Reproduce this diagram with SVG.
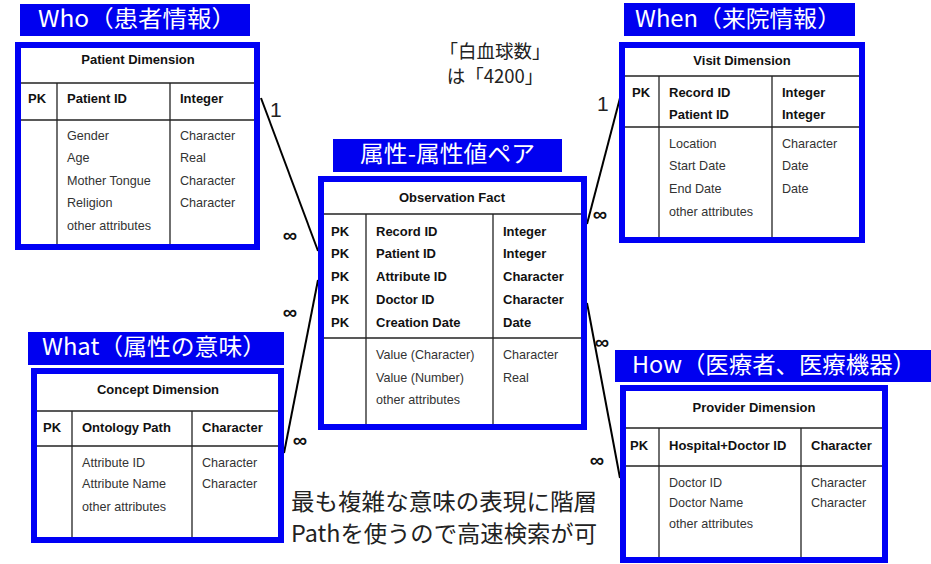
<svg xmlns="http://www.w3.org/2000/svg" width="931" height="564" viewBox="0 0 931 564">
<style>
.bg{fill:#ffffff}
.tbl{fill:#ffffff;stroke:#0000f5;stroke-width:6}
.lbl{fill:#0000f0}
.lt{fill:#ffffff;font-family:"Noto Sans CJK JP","Noto Sans",sans-serif;font-size:23px}
.g line{stroke:#222;stroke-width:1.3}
.t{font-family:"Liberation Sans",Arial,sans-serif;font-size:13px;fill:#111;font-weight:bold}
.n{font-family:"Liberation Sans",Arial,sans-serif;font-size:12.6px;fill:#333}
.ttl{text-anchor:middle}
.con line{stroke:#000;stroke-width:2}
.card{font-family:"Liberation Sans",Arial,sans-serif;font-size:21px;fill:#222}
.inf{font-family:"Liberation Sans",Arial,sans-serif;font-size:20px;fill:#111;text-anchor:middle;font-weight:bold}
.jp{font-family:"Noto Sans CJK JP",sans-serif;fill:#222}
</style>
<rect class="bg" x="0" y="0" width="931" height="564"/>

<g id="connectors" class="con">
  <line x1="261" y1="98" x2="318" y2="251"/>
  <line x1="318" y1="280" x2="284" y2="453"/>
  <line x1="620" y1="98" x2="587" y2="224"/>
  <line x1="587" y1="303" x2="620" y2="478"/>
  <text class="card" x="270" y="117">1</text>
  <text class="card" x="597" y="111">1</text>
  <text class="inf" x="290" y="242">∞</text>
  <text class="inf" x="290" y="319">∞</text>
  <text class="inf" x="300" y="447">∞</text>
  <text class="inf" x="600" y="221">∞</text>
  <text class="inf" x="602" y="349">∞</text>
  <text class="inf" x="597" y="467">∞</text>
</g>

<g id="who-label">
  <rect class="lbl" x="20" y="4" width="230" height="32"/>
  <text class="lt" x="38" y="27" textLength="198" lengthAdjust="spacingAndGlyphs">Who（患者情報）</text>
</g>
<g id="patient-dimension" class="g">
  <rect class="tbl" x="18" y="45" width="239" height="202"/>
  <line x1="21" y1="83" x2="254" y2="83"/>
  <line x1="21" y1="120" x2="254" y2="120"/>
  <line x1="57" y1="83" x2="57" y2="244"/>
  <line x1="170" y1="83" x2="170" y2="244"/>
  <text class="t ttl" x="138" y="64">Patient Dimension</text>
  <text class="t" x="28" y="103">PK</text>
  <text class="t" x="67" y="103">Patient ID</text>
  <text class="t" x="180" y="103">Integer</text>
  <text class="n" x="67" y="140">Gender</text>
  <text class="n" x="67" y="162">Age</text>
  <text class="n" x="67" y="185">Mother Tongue</text>
  <text class="n" x="67" y="207">Religion</text>
  <text class="n" x="67" y="230">other attributes</text>
  <text class="n" x="180" y="140">Character</text>
  <text class="n" x="180" y="162">Real</text>
  <text class="n" x="180" y="185">Character</text>
  <text class="n" x="180" y="207">Character</text>
</g>

<g id="when-label">
  <rect class="lbl" x="624" y="3" width="231" height="33"/>
  <text class="lt" x="635" y="27" textLength="206" lengthAdjust="spacingAndGlyphs">When（来院情報）</text>
</g>
<g id="visit-dimension" class="g">
  <rect class="tbl" x="622" y="45" width="240" height="195"/>
  <line x1="625" y1="76" x2="859" y2="76"/>
  <line x1="625" y1="127" x2="859" y2="127"/>
  <line x1="659" y1="76" x2="659" y2="237"/>
  <line x1="772" y1="76" x2="772" y2="237"/>
  <text class="t ttl" x="742" y="65">Visit Dimension</text>
  <text class="t" x="632" y="97">PK</text>
  <text class="t" x="669" y="97">Record ID</text>
  <text class="t" x="669" y="119">Patient ID</text>
  <text class="t" x="782" y="97">Integer</text>
  <text class="t" x="782" y="119">Integer</text>
  <text class="n" x="669" y="148">Location</text>
  <text class="n" x="669" y="170">Start Date</text>
  <text class="n" x="669" y="193">End Date</text>
  <text class="n" x="669" y="216">other attributes</text>
  <text class="n" x="782" y="148">Character</text>
  <text class="n" x="782" y="170">Date</text>
  <text class="n" x="782" y="193">Date</text>
</g>

<g id="note-top">
  <text class="jp" x="495" y="58" font-size="18.5" text-anchor="middle">「白血球数」</text>
  <text class="jp" x="495" y="83" font-size="18.5" text-anchor="middle">は「4200」</text>
</g>

<g id="pair-label">
  <rect class="lbl" x="333" y="139" width="229" height="33"/>
  <text class="lt" x="360" y="162" font-size="23" textLength="175" lengthAdjust="spacingAndGlyphs">属性-属性値ペア</text>
</g>
<g id="observation-fact" class="g">
  <rect class="tbl" x="321" y="179" width="263" height="248"/>
  <line x1="324" y1="214" x2="581" y2="214"/>
  <line x1="324" y1="338" x2="581" y2="338"/>
  <line x1="366" y1="214" x2="366" y2="424"/>
  <line x1="493" y1="214" x2="493" y2="424"/>
  <text class="t ttl" x="452" y="202">Observation Fact</text>
  <text class="t" x="331" y="236">PK</text>
  <text class="t" x="331" y="258">PK</text>
  <text class="t" x="331" y="281">PK</text>
  <text class="t" x="331" y="304">PK</text>
  <text class="t" x="331" y="327">PK</text>
  <text class="t" x="376" y="236">Record ID</text>
  <text class="t" x="376" y="258">Patient ID</text>
  <text class="t" x="376" y="281">Attribute ID</text>
  <text class="t" x="376" y="304">Doctor ID</text>
  <text class="t" x="376" y="327">Creation Date</text>
  <text class="t" x="503" y="236">Integer</text>
  <text class="t" x="503" y="258">Integer</text>
  <text class="t" x="503" y="281">Character</text>
  <text class="t" x="503" y="304">Character</text>
  <text class="t" x="503" y="327">Date</text>
  <text class="n" x="376" y="359">Value (Character)</text>
  <text class="n" x="376" y="382">Value (Number)</text>
  <text class="n" x="376" y="404">other attributes</text>
  <text class="n" x="503" y="359">Character</text>
  <text class="n" x="503" y="382">Real</text>
</g>

<g id="what-label">
  <rect class="lbl" x="28" y="332" width="256" height="33"/>
  <text class="lt" x="42" y="355" textLength="224" lengthAdjust="spacingAndGlyphs">What（属性の意味）</text>
</g>
<g id="concept-dimension" class="g">
  <rect class="tbl" x="34" y="371" width="247" height="169"/>
  <line x1="37" y1="411" x2="278" y2="411"/>
  <line x1="37" y1="446" x2="278" y2="446"/>
  <line x1="72" y1="411" x2="72" y2="537"/>
  <line x1="192" y1="411" x2="192" y2="537"/>
  <text class="t ttl" x="158" y="394">Concept Dimension</text>
  <text class="t" x="43" y="432">PK</text>
  <text class="t" x="82" y="432">Ontology Path</text>
  <text class="t" x="202" y="432">Character</text>
  <text class="n" x="82" y="467">Attribute ID</text>
  <text class="n" x="82" y="488">Attribute Name</text>
  <text class="n" x="82" y="511">other attributes</text>
  <text class="n" x="202" y="467">Character</text>
  <text class="n" x="202" y="488">Character</text>
</g>

<g id="how-label">
  <rect class="lbl" x="615" y="350" width="316" height="32"/>
  <text class="lt" x="632" y="373" textLength="284" lengthAdjust="spacingAndGlyphs">How（医療者、医療機器）</text>
</g>
<g id="provider-dimension" class="g">
  <rect class="tbl" x="623" y="388" width="262" height="172"/>
  <line x1="626" y1="428" x2="882" y2="428"/>
  <line x1="626" y1="466" x2="882" y2="466"/>
  <line x1="659" y1="428" x2="659" y2="557"/>
  <line x1="801" y1="428" x2="801" y2="557"/>
  <text class="t ttl" x="754" y="412">Provider Dimension</text>
  <text class="t" x="630" y="450">PK</text>
  <text class="t" x="669" y="450">Hospital+Doctor ID</text>
  <text class="t" x="811" y="450">Character</text>
  <text class="n" x="669" y="487">Doctor ID</text>
  <text class="n" x="669" y="507">Doctor Name</text>
  <text class="n" x="669" y="528">other attributes</text>
  <text class="n" x="811" y="487">Character</text>
  <text class="n" x="811" y="507">Character</text>
</g>

<g id="note-bottom">
  <text class="jp" x="291" y="510" font-size="23" textLength="306" lengthAdjust="spacingAndGlyphs">最も複雑な意味の表現に階層</text>
  <text class="jp" x="291" y="542" font-size="23" textLength="306" lengthAdjust="spacingAndGlyphs">Pathを使うので高速検索が可</text>
</g>
</svg>
